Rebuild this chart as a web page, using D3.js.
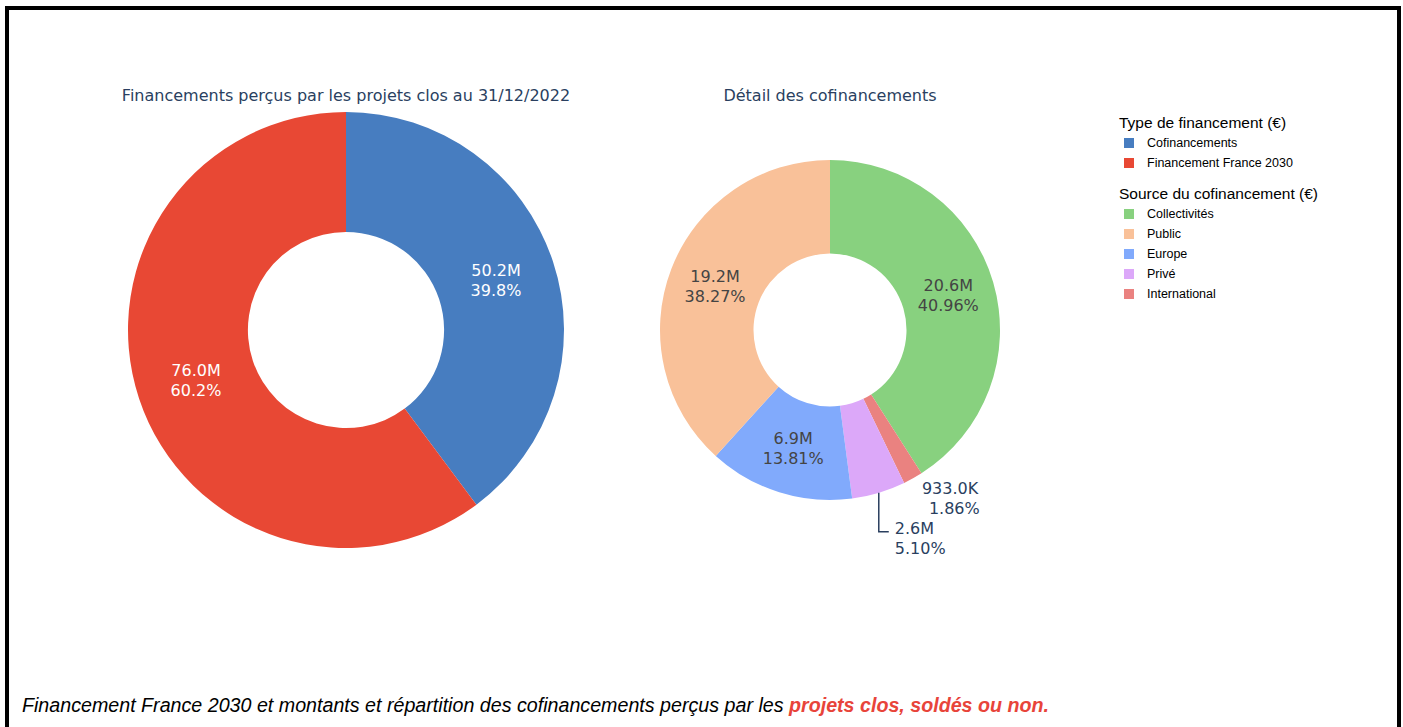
<!DOCTYPE html>
<html>
<head>
<meta charset="utf-8">
<script src="https://cdn.jsdelivr.net/npm/d3@7"></script>
<style>
  body { margin: 0; background: #fff; }
  svg { display: block; }
</style>
</head>
<body>
<div id="chart"></div>
<script>
// Data
const typeLabels = ['Cofinancements', 'Financement France 2030'];
const typeValues = [50229000, 76000000];
const typeColors = ['#477dc0', '#e84834'];

// legend order
const sourceLabels = ['Collectivités', 'Public', 'Europe', 'Privé', 'International'];
const sourceValues = [20574000, 19223000, 6937000, 2562000, 933000];
const sourceColors = ['#88d17f', '#f9c199', '#81aafc', '#dca8f9', '#ea8280'];
// clockwise order from 12 o'clock, as on the picture
const sourceOrder = ['Collectivités', 'International', 'Privé', 'Europe', 'Public'];

const titles = ['Financements perçus par les projets clos au 31/12/2022', 'Détail des cofinancements'];
const legendTitles = ['Type de financement (€)', 'Source du cofinancement (€)'];

const W = 1403, H = 727;

const svg = d3.select('#chart')
    .append('svg')
    .attr('width', W)
    .attr('height', H);

// frame
svg.append('rect')
    .attr('x', 7).attr('y', 8)
    .attr('width', 1392).attr('height', 760)
    .style('fill', 'none')
    .style('stroke', '#000')
    .style('stroke-width', 4);

function fmtMoney(v) {
    return v >= 1e6 ? (v / 1e6).toFixed(1) + 'M' : (v / 1e3).toFixed(1) + 'K';
}

function drawDonut(opts) {
    const g = svg.append('g').attr('transform', `translate(${opts.cx}, ${opts.cy})`);
    const total = d3.sum(opts.data, d => d.value);

    const pie = d3.pie().sort(null).value(d => d.value);
    const arc = d3.arc().innerRadius(opts.r * 0.45).outerRadius(opts.r);
    const arcs = pie(opts.data);

    g.selectAll('path')
        .data(arcs)
        .enter()
        .append('path')
        .attr('d', arc)
        .style('fill', d => d.data.color);

    arcs.forEach(a => {
        const pct = d3.format(opts.pctFormat)(a.data.value / total);
        const lines = [fmtMoney(a.data.value), pct];
        const mid = (a.startAngle + a.endAngle) / 2;
        if (a.endAngle - a.startAngle > 0.5) {
            const [x, y] = arc.centroid(a);
            const t = g.append('text')
                .attr('x', x).attr('y', y - 4)
                .style('text-anchor', 'middle')
                .style('font-family', 'DejaVu Sans, Verdana, sans-serif')
                .style('font-size', '16px')
                .style('fill', a.data.dark ? '#fff' : '#444');
            t.append('tspan').attr('x', x).text(lines[0]);
            t.append('tspan').attr('x', x).attr('dy', 20).text(lines[1]);
        } else {
            // outside label
            const ox = Math.sin(mid) * opts.r, oy = -Math.cos(mid) * opts.r;
            let tx, ty;
            if (a.data.leader) {
                const ly = oy + a.data.leader;
                g.append('path')
                    .attr('d', `M${ox},${oy}V${ly}h10`)
                    .style('fill', 'none')
                    .style('stroke', '#2a3f5f')
                    .style('stroke-width', 1.5);
                tx = ox + 16; ty = ly + 2;
            } else {
                tx = ox + 9; ty = oy + 16;
            }
            const t = g.append('text')
                .attr('x', tx).attr('y', ty)
                .style('text-anchor', 'start')
                .style('font-family', 'DejaVu Sans, Verdana, sans-serif')
                .style('font-size', '16px')
                .style('fill', '#2a3f5f');
            t.append('tspan').attr('x', tx).text(lines[0]);
            t.append('tspan').attr('x', tx + (a.data.leader ? 0 : 7)).attr('dy', 20).text(lines[1]);
        }
    });

    svg.append('text')
        .attr('x', opts.cx).attr('y', 101)
        .style('text-anchor', 'middle')
        .style('font-family', 'DejaVu Sans, Verdana, sans-serif')
        .style('font-size', '16px')
        .style('fill', '#2a3f5f')
        .text(opts.title);
}

const typeData = typeLabels.map((l, i) => ({label: l, value: typeValues[i], color: typeColors[i], dark: true}));
drawDonut({cx: 346, cy: 330, r: 218, data: typeData, pctFormat: '.1%', title: titles[0]});

const sourceData = sourceOrder.map(l => {
    const i = sourceLabels.indexOf(l);
    return {label: l, value: sourceValues[i], color: sourceColors[i], dark: false, leader: l === 'Privé' ? 39 : 0};
});
drawDonut({cx: 830, cy: 330, r: 170, data: sourceData, pctFormat: '.2%', title: titles[1]});

// Legend
const legend = svg.append('g').attr('transform', 'translate(1119, 0)');
const groups = [
    {title: legendTitles[0], labels: typeLabels, colors: typeColors, y: 128},
    {title: legendTitles[1], labels: sourceLabels, colors: sourceColors, y: 199}
];
groups.forEach(gr => {
    legend.append('text')
        .attr('x', 0).attr('y', gr.y)
        .style('font-family', 'Liberation Sans, Arial, sans-serif')
        .style('font-size', '15.5px')
        .style('fill', '#000')
        .text(gr.title);
    gr.labels.forEach((l, i) => {
        const y = gr.y + 15 + i * 20;
        legend.append('rect')
            .attr('x', 5).attr('y', y - 5)
            .attr('width', 10).attr('height', 10)
            .style('fill', gr.colors[i]);
        legend.append('text')
            .attr('x', 28).attr('y', y + 4)
            .style('font-family', 'Liberation Sans, Arial, sans-serif')
            .style('font-size', '12.5px')
            .style('fill', '#000')
            .text(l);
    });
});

// Caption
const capG = svg.append('g');
const cap = capG.append('text')
    .attr('x', 0).attr('y', 0)
    .style('font-family', 'Liberation Sans Narrow, Arial Narrow, sans-serif')
    .style('font-style', 'italic')
    .style('font-size', '21px')
    .style('fill', '#000');
cap.append('tspan').text('Financement France 2030 et montants et répartition des cofinancements perçus par les ');
cap.append('tspan')
    .style('fill', '#e8443a')
    .style('font-weight', 'bold')
    .text('projets clos, soldés ou non.');
const capLen = cap.node().getComputedTextLength();
capG.attr('transform', `translate(22, 712) scale(${1028 / capLen}, 1)`);
</script>
</body>
</html>
